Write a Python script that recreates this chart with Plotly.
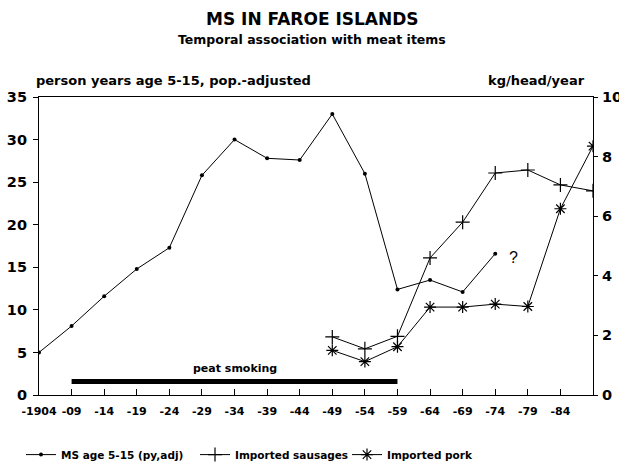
import plotly.graph_objects as go

periods = ["-1904", "-09", "-14", "-19", "-24", "-29", "-34", "-39", "-44",
           "-49", "-54", "-59", "-64", "-69", "-74", "-79", "-84", ""]
x_idx = list(range(len(periods)))

ms_values = [5.0, 8.1, 11.6, 14.8, 17.3, 25.8, 30.0, 27.8, 27.6,
             33.0, 26.0, 12.4, 13.5, 12.1, 16.6]
sausage_values = [None] * 9 + [1.95, 1.55, 1.97, 4.6, 5.8, 7.45, 7.55, 7.05, 6.85]
pork_values = [None] * 9 + [1.5, 1.12, 1.62, 2.95, 2.95, 3.05, 2.97, 6.25, 8.35]

peat_start, peat_end, peat_level = 1, 11, 1.6
question_x, question_y = 14.35, 16.2

bold = "DejaVu Sans, Verdana, sans-serif"
thin = "Liberation Sans, Arial, sans-serif"

fig = go.Figure()

fig.add_trace(go.Scatter(
    x=x_idx[:len(ms_values)], y=ms_values, name="MS age 5-15 (py,adj)",
    mode="lines+markers", line=dict(color="black", width=1),
    marker=dict(symbol="circle", size=4, color="black"), yaxis="y", legend="legend"))

fig.add_trace(go.Scatter(
    x=x_idx, y=sausage_values, name="Imported sausages",
    mode="lines+markers", line=dict(color="black", width=1),
    marker=dict(symbol="cross-thin-open", size=10, line=dict(color="black", width=1.2)),
    yaxis="y2", legend="legend2"))

fig.add_trace(go.Scatter(
    x=x_idx, y=pork_values, name="Imported pork",
    mode="lines+markers", line=dict(color="black", width=1),
    marker=dict(symbol="asterisk-open", size=10, line=dict(color="black", width=1.2)),
    yaxis="y2", legend="legend3"))

fig.add_trace(go.Scatter(
    x=[peat_start, peat_end], y=[peat_level, peat_level], mode="lines",
    line=dict(color="black", width=5), showlegend=False, hoverinfo="skip", yaxis="y"))

fig.add_annotation(x=(peat_start + peat_end) / 2, y=peat_level, yref="y", xref="x",
                   text="peat smoking", showarrow=False, yshift=13,
                   font=dict(family=bold, size=11, color="black", weight="bold"))
fig.add_annotation(x=question_x, y=question_y, xref="x", yref="y", text="?",
                   showarrow=False, xanchor="left",
                   font=dict(family=thin, size=16, color="black"))

title_x = (312 - 39) / 554
fig.add_annotation(x=title_x, y=1.0, xref="paper", yref="paper", text="MS IN FAROE ISLANDS",
                   showarrow=False, xanchor="center", yanchor="middle", yshift=78,
                   font=dict(family=bold, size=17, color="black", weight="bold"))
fig.add_annotation(x=title_x, y=1.0, xref="paper", yref="paper", text="Temporal association with meat items",
                   showarrow=False, xanchor="center", yanchor="middle", yshift=58,
                   font=dict(family=bold, size=12.5, color="black", weight="bold"))

fig.add_annotation(x=0, y=1.0, xref="paper", yref="paper", text="person years age 5-15, pop.-adjusted",
                   showarrow=False, xanchor="left", yanchor="middle", xshift=-5, yshift=17,
                   font=dict(family=bold, size=13, color="black", weight="bold"))
fig.add_annotation(x=1, y=1.0, xref="paper", yref="paper", text="kg/head/year",
                   showarrow=False, xanchor="right", yanchor="middle", xshift=-6, yshift=17,
                   font=dict(family=bold, size=13, color="black", weight="bold"))

legend_font = dict(family=bold, size=10.5, color="black", weight="bold")
legend_common = dict(orientation="h", xanchor="left", y=-0.2, yanchor="middle",
                     font=legend_font, itemwidth=30, bgcolor="rgba(0,0,0,0)")

fig.update_layout(
    width=619, height=469,
    margin=dict(l=39, r=26, t=97, b=74, autoexpand=False),
    paper_bgcolor="white", plot_bgcolor="white",
    xaxis=dict(range=[0, 17], tickvals=x_idx, ticktext=periods, ticks="inside",
               ticklen=6, tickcolor="black", showgrid=False, zeroline=False,
               showline=True, linecolor="black", linewidth=1.2, mirror=True,
               ticklabelstandoff=6, automargin=False,
               tickfont=dict(family=bold, size=11, color="black", weight="bold")),
    yaxis=dict(range=[0, 35], dtick=5, ticks="outside", ticklen=5, tickcolor="black",
               showgrid=False, zeroline=False, showline=True, linecolor="black", linewidth=1.2,
               ticklabelstandoff=3, automargin=False,
               tickfont=dict(family=bold, size=14.5, color="black", weight="bold")),
    yaxis2=dict(range=[0, 10], dtick=2, overlaying="y", side="right", ticks="outside",
                ticklen=4, tickcolor="black", showgrid=False, zeroline=False,
                showline=True, linecolor="black", linewidth=1.2, automargin=False,
                ticklabelstandoff=1,
                tickfont=dict(family=bold, size=14.5, color="black", weight="bold")),
    legend=dict(x=(21 - 39) / 554, **legend_common),
    legend2=dict(x=(195 - 39) / 554, **legend_common),
    legend3=dict(x=(347 - 39) / 554, **legend_common),
    showlegend=True,
)

# remove the browser's default 8px body margin so the figure fills the window exactly
fig.write_html("out.html", config={"displayModeBar": False},
               post_script="document.body.style.margin='0px';document.body.style.overflow='hidden';")
